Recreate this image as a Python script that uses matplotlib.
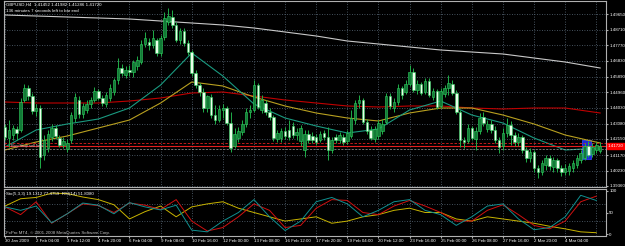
import matplotlib.pyplot as plt
import numpy as np

plt.rcParams['font.family'] = ['Liberation Sans', 'DejaVu Sans']

# ---- OHLC, GBPUSD H4 ----
opens = [1.4287, 1.4221, 1.4239, 1.4275, 1.4269, 1.4449, 1.4521, 1.4473, 1.4383, 1.4401,
         1.4119, 1.4161, 1.4227, 1.4281, 1.4221, 1.4179, 1.4155, 1.4209, 1.4341, 1.4449,
         1.4365, 1.4389, 1.4425, 1.4449, 1.4503, 1.4461, 1.4425, 1.4461, 1.4497, 1.4569,
         1.4641, 1.4599, 1.4629, 1.4617, 1.4653, 1.4677, 1.4785, 1.4797, 1.4779, 1.4809,
         1.4731, 1.4827, 1.4917, 1.4947, 1.4899, 1.4809, 1.4863, 1.4791, 1.4737, 1.4611,
         1.4539, 1.4497, 1.4401, 1.4467, 1.4359, 1.4329, 1.4389, 1.4401, 1.4311, 1.4173,
         1.4221, 1.4257, 1.4305, 1.4377, 1.4389, 1.4539, 1.4389, 1.4431, 1.4377, 1.4347,
         1.4215, 1.4221, 1.4263, 1.4269, 1.4293, 1.4239, 1.4203, 1.4149, 1.4245, 1.4233,
         1.4227, 1.4209, 1.4251, 1.4227, 1.4149, 1.4227, 1.4209, 1.4227, 1.4203, 1.4233,
         1.4329, 1.4431, 1.4449, 1.4317, 1.4269, 1.4215, 1.4233, 1.4263, 1.4317, 1.4473,
         1.4401, 1.4437, 1.4521, 1.4497, 1.4545, 1.4617, 1.4509, 1.4545, 1.4497, 1.4563,
         1.4467, 1.4503, 1.4413, 1.4485, 1.4521, 1.4545, 1.4491, 1.4377, 1.4209, 1.4203,
         1.4281, 1.4215, 1.4263, 1.4347, 1.4275, 1.4305, 1.4269, 1.4209, 1.4173, 1.4251,
         1.4299, 1.4239, 1.4197, 1.4227, 1.4149, 1.4101, 1.4137, 1.4041, 1.4017, 1.4059,
         1.4101, 1.4047, 1.4089, 1.4041, 1.4017, 1.4023, 1.4041, 1.4059, 1.4089, 1.4101,
         1.4173, 1.4125, 1.4149, 1.41452]
highs = [1.4305, 1.4329, 1.4299, 1.4293, 1.4461, 1.4545, 1.4539, 1.4491, 1.4425, 1.4419,
         1.4239, 1.4269, 1.4305, 1.4299, 1.4239, 1.4227, 1.4215, 1.4377, 1.4491, 1.4473,
         1.4431, 1.4449, 1.4467, 1.4527, 1.4515, 1.4479, 1.4497, 1.4545, 1.4581, 1.4701,
         1.4665, 1.4653, 1.4659, 1.4689, 1.4713, 1.4809, 1.4857, 1.4821, 1.4869, 1.4821,
         1.4839, 1.4977, 1.5001, 1.4989, 1.4917, 1.4881, 1.4881, 1.4809, 1.4749, 1.4629,
         1.4551, 1.4521, 1.4479, 1.4485, 1.4419, 1.4419, 1.4425, 1.4413, 1.4377, 1.4281,
         1.4287, 1.4329, 1.4401, 1.4419, 1.4569, 1.4551, 1.4479, 1.4449, 1.4401, 1.4359,
         1.4269, 1.4281, 1.4287, 1.4329, 1.4317, 1.4281, 1.4299, 1.4269, 1.4269, 1.4257,
         1.4245, 1.4263, 1.4269, 1.4287, 1.4227, 1.4245, 1.4257, 1.4245, 1.4269, 1.4389,
         1.4449, 1.4479, 1.4461, 1.4335, 1.4293, 1.4293, 1.4329, 1.4335, 1.4491, 1.4491,
         1.4461, 1.4545, 1.4533, 1.4569, 1.4659, 1.4641, 1.4569, 1.4557, 1.4581, 1.4581,
         1.4521, 1.4515, 1.4521, 1.4539, 1.4599, 1.4569, 1.4509, 1.4389, 1.4227, 1.4305,
         1.4293, 1.4287, 1.4371, 1.4377, 1.4329, 1.4329, 1.4293, 1.4227, 1.4281, 1.4341,
         1.4323, 1.4257, 1.4251, 1.4239, 1.4167, 1.4161, 1.4149, 1.4059, 1.4089, 1.4119,
         1.4119, 1.4107, 1.4101, 1.4059, 1.4065, 1.4071, 1.4089, 1.4119, 1.4149, 1.4191,
         1.4203, 1.4191, 1.4197, 1.41982]
lows = [1.4209, 1.4167, 1.4209, 1.4209, 1.4257, 1.4437, 1.4449, 1.4365, 1.4353, 1.4041,
        1.4089, 1.4137, 1.4203, 1.4215, 1.4167, 1.4161, 1.4137, 1.4191, 1.4317, 1.4341,
        1.4341, 1.4371, 1.4401, 1.4437, 1.4449, 1.4413, 1.4407, 1.4443, 1.4479, 1.4545,
        1.4593, 1.4581, 1.4593, 1.4587, 1.4629, 1.4665, 1.4767, 1.4749, 1.4761, 1.4713,
        1.4713, 1.4809, 1.4899, 1.4881, 1.4797, 1.4785, 1.4773, 1.4719, 1.4593, 1.4521,
        1.4473, 1.4377, 1.4377, 1.4341, 1.4305, 1.4317, 1.4341, 1.4299, 1.4137, 1.4161,
        1.4197, 1.4239, 1.4287, 1.4341, 1.4377, 1.4395, 1.4371, 1.4359, 1.4329, 1.4203,
        1.4197, 1.4197, 1.4215, 1.4209, 1.4221, 1.4209, 1.4173, 1.4107, 1.4191, 1.4191,
        1.4179, 1.4197, 1.4209, 1.4089, 1.4131, 1.4191, 1.4191, 1.4179, 1.4185, 1.4221,
        1.4305, 1.4401, 1.4305, 1.4245, 1.4209, 1.4197, 1.4215, 1.4245, 1.4305, 1.4395,
        1.4377, 1.4419, 1.4455, 1.4485, 1.4533, 1.4497, 1.4485, 1.4479, 1.4485, 1.4467,
        1.4449, 1.4395, 1.4401, 1.4467, 1.4479, 1.4479, 1.4365, 1.4167, 1.4161, 1.4191,
        1.4209, 1.4149, 1.4245, 1.4293, 1.4257, 1.4251, 1.4191, 1.4131, 1.4149, 1.4227,
        1.4179, 1.4173, 1.4173, 1.4131, 1.4077, 1.4077, 1.4017, 1.3981, 1.3999, 1.4029,
        1.4029, 1.4017, 1.4017, 1.3993, 1.3999, 1.3999, 1.4017, 1.4041, 1.4071, 1.4089,
        1.4107, 1.4107, 1.4131, 1.41286]
closes = [1.4227, 1.4269, 1.4281, 1.4251, 1.4437, 1.4521, 1.4473, 1.4383, 1.4401, 1.4107,
          1.4209, 1.4245, 1.4281, 1.4233, 1.4179, 1.4203, 1.4191, 1.4359, 1.4467, 1.4365,
          1.4413, 1.4425, 1.4449, 1.4503, 1.4461, 1.4431, 1.4479, 1.4521, 1.4569, 1.4641,
          1.4611, 1.4629, 1.4617, 1.4677, 1.4689, 1.4785, 1.4821, 1.4779, 1.4821, 1.4731,
          1.4821, 1.4941, 1.4953, 1.4899, 1.4809, 1.4863, 1.4791, 1.4737, 1.4611, 1.4539,
          1.4497, 1.4401, 1.4473, 1.4359, 1.4329, 1.4395, 1.4401, 1.4311, 1.4161, 1.4245,
          1.4263, 1.4305, 1.4377, 1.4389, 1.4539, 1.4407, 1.4449, 1.4377, 1.4347, 1.4221,
          1.4251, 1.4263, 1.4233, 1.4227, 1.4239, 1.4257, 1.4281, 1.4245, 1.4209, 1.4209,
          1.4197, 1.4245, 1.4227, 1.4149, 1.4209, 1.4209, 1.4239, 1.4197, 1.4251, 1.4341,
          1.4431, 1.4449, 1.4317, 1.4263, 1.4221, 1.4275, 1.4311, 1.4305, 1.4473, 1.4413,
          1.4437, 1.4521, 1.4479, 1.4545, 1.4617, 1.4509, 1.4545, 1.4491, 1.4563, 1.4479,
          1.4503, 1.4407, 1.4503, 1.4521, 1.4551, 1.4491, 1.4377, 1.4209, 1.4197, 1.4281,
          1.4221, 1.4263, 1.4341, 1.4311, 1.4305, 1.4269, 1.4209, 1.4167, 1.4251, 1.4299,
          1.4239, 1.4197, 1.4227, 1.4149, 1.4101, 1.4137, 1.4041, 1.4017, 1.4071, 1.4101,
          1.4053, 1.4089, 1.4041, 1.4017, 1.4041, 1.4053, 1.4071, 1.4101, 1.4131, 1.4173,
          1.4119, 1.4167, 1.4179, 1.41720]

# ---- moving averages (sampled every 8 bars) ----
ma_idx = [0, 8, 16, 24, 32, 40, 48, 56, 64, 72, 80, 88, 96, 104, 112, 120, 128, 136, 144, 153]
ma_fast = [1.4167, 1.4269, 1.4305, 1.4335, 1.4401, 1.4539, 1.4731, 1.4593, 1.4425, 1.4341,
           1.4293, 1.4251, 1.4275, 1.4389, 1.4443, 1.4359, 1.4311, 1.4221, 1.4149, 1.4161]
ma_mid = [1.4149, 1.4197, 1.4233, 1.4281, 1.4329, 1.4431, 1.4557, 1.4533, 1.4467, 1.4413,
          1.4371, 1.4341, 1.4323, 1.4371, 1.4401, 1.4401, 1.4359, 1.4305, 1.4239, 1.4191]
ma_slow = [1.4437, 1.4431, 1.4431, 1.4431, 1.4443, 1.4461, 1.4491, 1.4497, 1.4473, 1.4449,
           1.4431, 1.4413, 1.4407, 1.4413, 1.4413, 1.4401, 1.4395, 1.4401, 1.4401, 1.4371]
ma_long = [1.4959, 1.4953, 1.4947, 1.4941, 1.4935, 1.4923, 1.4911, 1.4899, 1.4881, 1.4857,
           1.4833, 1.4803, 1.4785, 1.4767, 1.4749, 1.4737, 1.4725, 1.4701, 1.4677, 1.4641]

# ---- oscillator window (sampled every 4 bars) ----
osc_idx = [0, 4, 8, 12, 16, 20, 24, 28, 32, 36, 40, 44, 48, 52, 56, 60, 64, 68, 72, 76,
           80, 84, 88, 92, 96, 100, 104, 108, 112, 116, 120, 124, 128, 132, 136, 140, 144, 148, 152]
sto_main = [63, 55, 65, 26, 47, 72, 67, 47, 73, 63, 56, 67, 9, 5, 30, 50, 80, 40, 8, 30,
            75, 85, 70, 40, 55, 75, 80, 55, 45, 20, 40, 65, 70, 35, 10, 15, 40, 90, 78]
sto_signal = [63, 45, 75, 25, 47, 70, 66, 50, 72, 67, 57, 80, 30, 7, 15, 40, 70, 55, 15, 20,
              60, 80, 78, 50, 45, 65, 78, 65, 50, 30, 30, 55, 68, 45, 20, 12, 30, 75, 88]
rsi_vals = [65, 82, 85, 95, 94, 86, 80, 68, 35, 52, 65, 40, 63, 70, 75, 60, 50, 40, 30, 35,
            40, 25, 30, 40, 45, 55, 60, 50, 50, 35, 30, 40, 35, 30, 25, 18, 12, 5, 3]

time_idx = [0, 8, 16, 24, 32, 40, 48, 56, 64, 72, 80, 88, 96, 104, 112, 120, 128, 136, 144]
time_labels = ['30 Jan 2009', '2 Feb 04:00', '3 Feb 12:00', '4 Feb 20:00', '6 Feb 04:00',
               '9 Feb 08:00', '10 Feb 16:00', '12 Feb 00:00', '13 Feb 08:00', '16 Feb 12:00',
               '17 Feb 20:00', '19 Feb 04:00', '20 Feb 12:00', '23 Feb 16:00', '25 Feb 00:00',
               '26 Feb 08:00', '27 Feb 16:00', '2 Mar 20:00', '4 Mar 04:00']
price_ticks = [1.4965, 1.4871, 1.4777, 1.4683, 1.4589, 1.4496, 1.4403, 1.4308, 1.4215,
               1.4117, 1.4023, 1.3936]

W, H = 625, 246
fig = plt.figure(figsize=(W / 100, H / 100), dpi=100)
fig.patch.set_facecolor('black')


def px_axes(l, t, r, b):
    a = fig.add_axes([l / W, 1 - b / H, (r - l) / W, (b - t) / H])
    a.set_facecolor('black')
    for s in a.spines.values():
        s.set_color('#b0b0b0')
        s.set_linewidth(0.8)
    return a


ax = px_axes(4, 1, 606, 187)
ax2 = px_axes(4, 189, 606, 236)

xmin, xmax = -0.26, 154.5
grid_kw = dict(color='#5c6c7c', linestyle=(0, (1, 2)), linewidth=0.6, zorder=0)
txt = '#ffffff'
fs = 3.2

# ---- main window ----
ax.set_xlim(xmin, xmax)
ax.set_ylim(1.3927, 1.5043)
for p in price_ticks:
    ax.axhline(p, **grid_kw)
for t in time_idx + [152]:
    ax.axvline(t, **grid_kw)

ax.add_patch(plt.Rectangle((148.3, 1.4095), 2.4, 0.0114, facecolor='#1a28d8',
                           edgecolor='#3a50ff', lw=0.5, zorder=1))

o, h, l, c = map(np.array, (opens, highs, lows, closes))
x = np.arange(len(o))
up = c >= o
ax.vlines(x, l, h, color='#1fae48', lw=0.7, zorder=3)
ax.bar(x[up], np.maximum(c - o, 0.0001)[up], bottom=o[up], width=0.65,
       color='#127a36', edgecolor='#2fd060', lw=0.4, zorder=4)
ax.bar(x[~up], (o - c)[~up], bottom=c[~up], width=0.65,
       color='#eaffea', edgecolor='#2fd060', lw=0.4, zorder=4)

ax.plot(ma_idx, ma_long, color='#c8c8c8', lw=0.8, zorder=2)
ax.plot(ma_idx, ma_slow, color='#c00000', lw=0.8, zorder=2)
ax.plot(ma_idx, ma_mid, color='#b8a020', lw=0.8, zorder=2)
ax.plot(ma_idx, ma_fast, color='#1a9a80', lw=0.8, zorder=2)

ax.axhline(1.4190, color='#e02020', lw=0.6, linestyle=(0, (3, 2)), zorder=2)
ax.axhline(closes[-1], color='#e02020', lw=0.8, zorder=2)
ax.axhline(1.4155, color='#a0a0a0', lw=0.5, linestyle=(0, (3, 2)), zorder=2)
ax.text(1.5, 1.4172, 'Buy/Stop sell limit', color='#c0c0c0', fontsize=3.0,
        va='center', zorder=5)

ax.set_yticks(price_ticks)
ax.set_yticklabels([f'{p:.5f}' for p in price_ticks])
ax.yaxis.tick_right()
ax.tick_params(axis='y', colors='#b0b0b0', labelcolor=txt, labelsize=fs, length=1.5, pad=0.8)
ax.set_xticks([])

ax.annotate('1.41720', xy=(1.0, closes[-1]), xycoords=('axes fraction', 'data'),
            xytext=(1.0, 0), textcoords='offset points', color='white', fontsize=fs,
            va='center', ha='left', annotation_clip=False,
            bbox=dict(boxstyle='square,pad=0.15', fc='#ff0000', ec='#ff0000'))

fig.text(6 / W, 1 - 5 / H, 'GBPUSD,H4  1.41452 1.41982 1.41286 1.41720', color=txt,
         fontsize=fs, va='center')
fig.text(6 / W, 1 - 11 / H, '136 minutes 7 seconds left to bar end', color=txt,
         fontsize=fs, va='center')

# ---- oscillator window ----
ax2.set_xlim(xmin, xmax)
ax2.set_ylim(-4.65, 104.65)
for t in time_idx + [152]:
    ax2.axvline(t, **grid_kw)
for lv in (30, 70):
    ax2.axhline(lv, **grid_kw)
ax2.plot(osc_idx, rsi_vals, color='#c8b400', lw=0.7)
ax2.plot(osc_idx, sto_signal, color='#d01010', lw=0.7)
ax2.plot(osc_idx, sto_main, color='#109090', lw=0.7)
ax2.text(0.004, 0.9, 'Sto(5,3,3) 19.1312 77.4759  RSI(14) 51.8080', transform=ax2.transAxes,
         color=txt, fontsize=fs, va='center')
ax2.text(0.004, 0.06, 'FxPro MT4, \u00a9 2001-2008 MetaQuotes Software Corp.',
         transform=ax2.transAxes, color='#c0c0c0', fontsize=fs, va='center')

ax2.set_yticks([0, 50, 100])
ax2.yaxis.tick_right()
ax2.tick_params(axis='y', colors='#b0b0b0', labelcolor=txt, labelsize=fs, length=1.5, pad=0.8)
ax2.set_xticks(time_idx)
ax2.set_xticklabels(time_labels, ha='left')
ax2.tick_params(axis='x', colors='#b0b0b0', labelcolor=txt, labelsize=fs, length=1.5, pad=1)

fig.savefig('out.png', dpi=100, facecolor='black')
